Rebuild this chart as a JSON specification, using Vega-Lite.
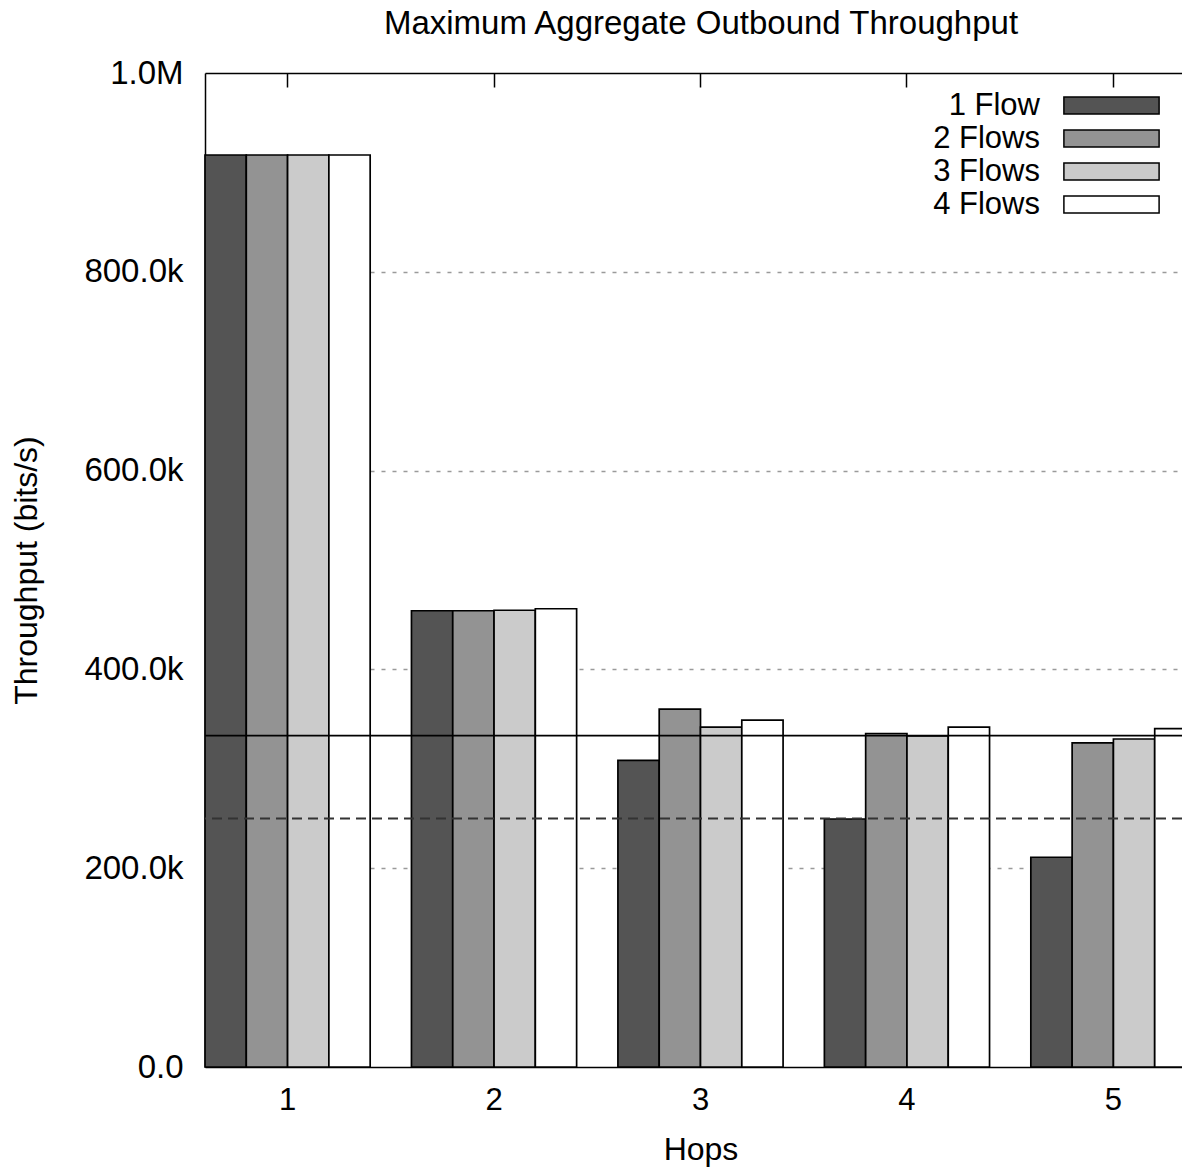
{
  "$schema": "https://vega.github.io/schema/vega-lite/v6.json",
  "autosize": {"type": "none"},
  "padding": {"left": 205, "top": 73, "right": 0, "bottom": 100},
  "width": 977,
  "height": 994,
  "background": "white",
  "config": {
    "font": "Liberation Sans",
    "view": {"stroke": null},
    "axis": {"labelColor": "black", "titleColor": "black", "titleFontWeight": "normal", "labelFont": "Liberation Sans", "titleFont": "Liberation Sans"},
    "legend": {"labelFont": "Liberation Sans"}
  },
  "data": {
    "values": [
      {"hop": "1", "flows": "1 Flow", "throughput": 917500},
      {"hop": "1", "flows": "2 Flows", "throughput": 917500},
      {"hop": "1", "flows": "3 Flows", "throughput": 917500},
      {"hop": "1", "flows": "4 Flows", "throughput": 917500},
      {"hop": "2", "flows": "1 Flow", "throughput": 459000},
      {"hop": "2", "flows": "2 Flows", "throughput": 459000},
      {"hop": "2", "flows": "3 Flows", "throughput": 459500},
      {"hop": "2", "flows": "4 Flows", "throughput": 461000},
      {"hop": "3", "flows": "1 Flow", "throughput": 308500},
      {"hop": "3", "flows": "2 Flows", "throughput": 360000},
      {"hop": "3", "flows": "3 Flows", "throughput": 342000},
      {"hop": "3", "flows": "4 Flows", "throughput": 349000},
      {"hop": "4", "flows": "1 Flow", "throughput": 249500},
      {"hop": "4", "flows": "2 Flows", "throughput": 335500},
      {"hop": "4", "flows": "3 Flows", "throughput": 333000},
      {"hop": "4", "flows": "4 Flows", "throughput": 342000},
      {"hop": "5", "flows": "1 Flow", "throughput": 211000},
      {"hop": "5", "flows": "2 Flows", "throughput": 326000},
      {"hop": "5", "flows": "3 Flows", "throughput": 330000},
      {"hop": "5", "flows": "4 Flows", "throughput": 340500}
    ]
  },
  "layer": [
    {
      "mark": {"type": "bar", "opacity": 0},
      "encoding": {
        "x": {
          "field": "hop", "type": "nominal",
          "scale": {"type": "band", "range": [0, 991], "paddingInner": 0.2, "paddingOuter": 0},
          "axis": {
            "orient": "top", "labels": false,
            "title": "Maximum Aggregate Outbound Throughput",
            "titleFontSize": 33, "titleBaseline": "alphabetic", "titleY": -40,
            "domain": true, "domainColor": "black", "domainWidth": 1.5,
            "ticks": true, "tickSize": -14, "tickColor": "black", "tickWidth": 1.5,
            "grid": false, "labelPadding": 0
          }
        },
        "y": {
          "field": "throughput", "type": "quantitative",
          "scale": {"domain": [0, 1000000], "nice": false},
          "axis": {
            "title": "Throughput (bits/s)",
            "titleFontSize": 32,
            "titlePadding": 40,
            "labelFontSize": 33,
            "labelPadding": 22,
            "ticks": false,
            "domain": true, "domainColor": "black", "domainWidth": 1.5,
            "values": [0, 200000, 400000, 600000, 800000, 1000000],
            "labelExpr": "datum.value == 0 ? '0.0' : (datum.value >= 1000000 ? '1.0M' : format(datum.value / 1000, '.1f') + 'k')",
            "grid": true,
            "gridColor": "#9a9a9a",
            "gridWidth": 1.5,
            "gridDash": [4, 7],
            "gridOpacity": {"condition": {"test": "datum.value == 0 || datum.value == 1000000", "value": 0}, "value": 1}
          }
        }
      }
    },
    {
      "mark": {"type": "bar", "stroke": "black", "strokeWidth": 1.7, "opacity": 1},
      "encoding": {
        "x": {
          "field": "hop", "type": "nominal",
          "axis": {"orient": "bottom", "title": "Hops", "labelAngle": 0, "labelFontSize": 31, "titleFontSize": 32, "labelPadding": 18, "titlePadding": 19, "ticks": false, "domain": true, "domainColor": "black", "domainWidth": 1.5, "grid": false}
        },
        "xOffset": {"field": "flows", "type": "nominal", "sort": ["1 Flow", "2 Flows", "3 Flows", "4 Flows"]},
        "y": {"field": "throughput", "type": "quantitative"},
        "fill": {
          "field": "flows", "type": "nominal",
          "sort": ["1 Flow", "2 Flows", "3 Flows", "4 Flows"],
          "scale": {"domain": ["1 Flow", "2 Flows", "3 Flows", "4 Flows"], "range": ["#545454", "#939393", "#cbcbcb", "#ffffff"]},
          "legend": {
            "title": null,
            "orient": "none",
            "legendX": 891,
            "legendY": 17,
            "padding": 0,
            "symbolType": "M-5.6,-1H5.6V1H-5.6Z",
            "symbolSize": 289,
            "symbolStrokeColor": "black",
            "symbolStrokeWidth": 1.5,
            "symbolOpacity": 1,
            "labelFontSize": 31,
            "labelColor": "black",
            "labelAlign": "right",
            "labelOffset": -87,
            "rowPadding": 1
          }
        }
      }
    },
    {
      "data": {"values": [{"limit": 333333}]},
      "mark": {"type": "rule", "color": "black", "strokeWidth": 1.6},
      "encoding": {"y": {"field": "limit", "type": "quantitative"}}
    },
    {
      "data": {"values": [{"limit": 250000}]},
      "mark": {"type": "rule", "color": "#333333", "strokeWidth": 2, "strokeDash": [10, 6]},
      "encoding": {"y": {"field": "limit", "type": "quantitative"}}
    }
  ],
  "resolve": {"axis": {"x": "independent"}}
}
